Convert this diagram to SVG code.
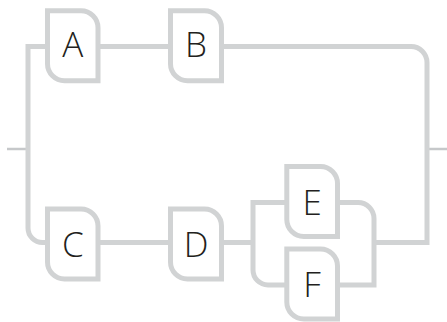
<svg xmlns="http://www.w3.org/2000/svg" width="447" height="322" viewBox="0 0 447 322">
  <style>
    .rail { fill: none; stroke: #d1d3d4; stroke-width: 5; }
    .end { fill: none; stroke: #c6c8ca; stroke-width: 2.5; }
    .box { fill: #ffffff; stroke: #d1d3d4; stroke-width: 5; }
    .lbl { font-family: "Open Sans", "Noto Sans", sans-serif; font-size: 35px; font-weight: 300; fill: #231f20; text-anchor: middle; }
  </style>
  <rect width="447" height="322" fill="#ffffff"/>
  <g id="connectors">
    <path class="end" d="M7,149 H28"/>
    <path class="end" d="M427,149 H447"/>
    <path class="rail" d="M47.5,46.5 H28 V228 A14.5 14.5 0 0 0 42.5,242.5 H47.5"/>
    <path class="rail" d="M98,46.5 H170.5"/>
    <path class="rail" d="M221.5,46.5 H411 A16 16 0 0 1 427,62.5 V242.5 H374"/>
    <path class="rail" d="M98,242.5 H170.5"/>
    <path class="rail" d="M221.5,242.5 H253"/>
    <path class="rail" d="M286.8,202.5 H253 V270 A15 15 0 0 0 268,285 H286.8"/>
    <path class="rail" d="M337.5,202.5 H358 A16 16 0 0 1 374,218.5 V285 H337.5"/>
  </g>
  <g id="node-A">
    <path class="box" d="M47.5,10.8 H81 A17 17 0 0 1 98,27.8 V80.8 H64.5 A17 17 0 0 1 47.5,63.8 Z"/>
    <text class="lbl" x="72.75" y="57">A</text>
  </g>
  <g id="node-B">
    <path class="box" d="M170.5,10.8 H204.5 A17 17 0 0 1 221.5,27.8 V80.8 H187.5 A17 17 0 0 1 170.5,63.8 Z"/>
    <text class="lbl" x="196" y="57">B</text>
  </g>
  <g id="node-C">
    <path class="box" d="M47.5,209 H81 A17 17 0 0 1 98,226 V279 H64.5 A17 17 0 0 1 47.5,262 Z"/>
    <text class="lbl" x="72.75" y="256.7">C</text>
  </g>
  <g id="node-D">
    <path class="box" d="M170.5,209 H204.5 A17 17 0 0 1 221.5,226 V279 H187.5 A17 17 0 0 1 170.5,262 Z"/>
    <text class="lbl" x="196" y="256.7">D</text>
  </g>
  <g id="node-E">
    <path class="box" d="M286.8,166.5 H320.5 A17 17 0 0 1 337.5,183.5 V236.5 H303.8 A17 17 0 0 1 286.8,219.5 Z"/>
    <text class="lbl" x="312.15" y="215">E</text>
  </g>
  <g id="node-F">
    <path class="box" d="M286.8,249 H320.5 A17 17 0 0 1 337.5,266 V319 H303.8 A17 17 0 0 1 286.8,302 Z"/>
    <text class="lbl" x="312.15" y="296.7">F</text>
  </g>
</svg>
